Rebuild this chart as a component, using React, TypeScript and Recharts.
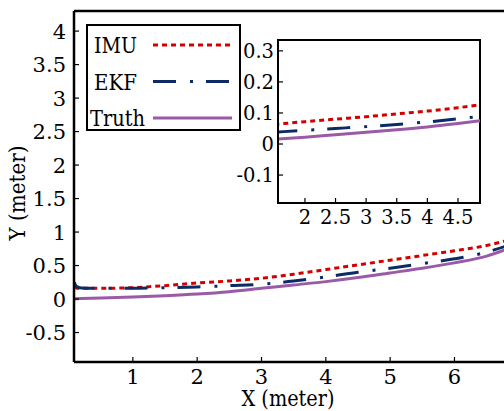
import React from 'react';
import { LineChart, Line, XAxis, YAxis, ReferenceLine, ReferenceArea } from 'recharts';

// main plot
const X_VALUES = [0.09, 0.12, 0.2, 0.5, 1, 1.5, 2, 2.5, 3, 3.5, 4, 4.5, 5, 5.5, 6, 6.5, 6.8];
const IMU = [0.17, 0.165, 0.16, 0.16, 0.17, 0.2, 0.24, 0.27, 0.31, 0.37, 0.44, 0.51, 0.58, 0.65, 0.72, 0.8, 0.87];
const EKF = [0.25, 0.19, 0.165, 0.16, 0.16, 0.17, 0.18, 0.2, 0.22, 0.27, 0.33, 0.4, 0.46, 0.53, 0.6, 0.7, 0.79];
const TRUTH = [0.005, 0.006, 0.008, 0.015, 0.03, 0.05, 0.075, 0.11, 0.16, 0.21, 0.26, 0.32, 0.39, 0.46, 0.54, 0.64, 0.74];
const X_TICKS = [1, 2, 3, 4, 5, 6];
const Y_TICKS = [-0.5, 0, 0.5, 1, 1.5, 2, 2.5, 3, 3.5, 4];

// inset
const INSET_X = [1.5, 2, 2.5, 3, 3.5, 4, 4.5, 5];
const INSET_IMU = [0.063, 0.072, 0.08, 0.088, 0.097, 0.106, 0.117, 0.13];
const INSET_EKF = [0.038, 0.044, 0.05, 0.056, 0.063, 0.071, 0.081, 0.092];
const INSET_TRUTH = [0.015, 0.022, 0.03, 0.038, 0.046, 0.055, 0.066, 0.078];
const INSET_X_TICKS = [2, 2.5, 3, 3.5, 4, 4.5];
const INSET_Y_TICKS = [-0.1, 0, 0.1, 0.2, 0.3];

const SERIES_NAMES = ['IMU', 'EKF', 'Truth'];

// Liberation Serif falls back to sans here, DejaVu Serif is the serif that renders
const FONT = "'DejaVu Serif', serif";
const RED = '#d40000';
const NAVY = '#0b2a66';
const PURPLE = '#9a5aa8';

const STYLES: Record<string, { color: string; dash?: string; textX: number; textLen: number }> = {
  IMU: { color: RED, dash: '5 4', textX: 8, textLen: 43 },
  EKF: { color: NAVY, dash: '23 14 3 13', textX: 8, textLen: 43 },
  Truth: { color: PURPLE, textX: 4, textLen: 55 },
};

const mainData = X_VALUES.map((x, i) => ({ x, IMU: IMU[i], EKF: EKF[i], Truth: TRUTH[i] }));
const insetData = INSET_X.map((x, i) => ({ x, IMU: INSET_IMU[i], EKF: INSET_EKF[i], Truth: INSET_TRUTH[i] }));

const txt = (size: number) => ({ fontFamily: FONT, fontSize: size, fill: '#000' });

// ticks drawn inward, labels outside
const BottomTick = ({ x, y, payload, size, gap }: any) => (
  <g>
    <line x1={x} y1={y} x2={x} y2={y - 5} stroke="#000" strokeWidth={1.2} />
    <text x={x} y={y + gap} textAnchor="middle" style={txt(size)}>
      {String(payload.value)}
    </text>
  </g>
);

const LeftTick = ({ x, y, payload, size, gap }: any) => (
  <g>
    <line x1={x} y1={y} x2={x + 5} y2={y} stroke="#000" strokeWidth={1.2} />
    <text x={x - gap} y={y} dy="0.36em" textAnchor="end" style={txt(size)}>
      {String(payload.value)}
    </text>
  </g>
);

function LegendBox() {
  return (
    <svg width={156} height={108} style={{ position: 'absolute', left: 86, top: 24 }}>
      <rect x={1} y={1} width={153} height={105} fill="#fff" stroke="#000" strokeWidth={2} />
      {SERIES_NAMES.map((name, i) => {
        const cy = 21 + i * 36.5;
        const s = STYLES[name];
        return (
          <g key={name}>
            <text x={s.textX} y={cy + 8} style={txt(22.5)} textLength={s.textLen} lengthAdjust="spacingAndGlyphs">
              {name}
            </text>
            <line x1={67} x2={146} y1={cy} y2={cy} stroke={s.color} strokeWidth={3} strokeDasharray={s.dash} />
          </g>
        );
      })}
    </svg>
  );
}

const seriesLines = () =>
  SERIES_NAMES.map((name) => (
    <Line
      key={name}
      name={name}
      dataKey={name}
      type="monotone"
      stroke={STYLES[name].color}
      strokeWidth={3}
      strokeDasharray={STYLES[name].dash}
      dot={false}
      isAnimationActive={false}
    />
  ));

export default function App() {
  return (
    <div style={{ position: 'absolute', left: 0, top: 0, width: 504, height: 411, background: '#fff' }}>
      <LineChart width={504} height={411} data={mainData} margin={{ top: 11, right: 0, left: 0, bottom: 0 }}>
        <XAxis
          dataKey="x"
          type="number"
          domain={[0.085, 6.77]}
          allowDataOverflow
          ticks={X_TICKS}
          height={49}
          tickSize={0}
          tickMargin={0}
          tickLine={false}
          axisLine={{ stroke: '#000', strokeWidth: 2.5 }}
          tick={<BottomTick size={21} gap={22} />}
          label={(p: any) => {
            const vb = p.viewBox;
            return (
              <text
                x={vb.x + vb.width / 2 - 1}
                y={406}
                textAnchor="middle"
                style={txt(21.5)}
                textLength={93}
                lengthAdjust="spacingAndGlyphs"
              >
                X (meter)
              </text>
            );
          }}
        />
        <YAxis
          type="number"
          domain={[-0.94, 4.3]}
          allowDataOverflow
          ticks={Y_TICKS}
          width={74}
          tickSize={0}
          tickMargin={0}
          tickLine={false}
          axisLine={{ stroke: '#000', strokeWidth: 2.5 }}
          tick={<LeftTick size={21} gap={8} />}
          label={() => (
            <text
              x={25}
              y={193}
              transform="rotate(-90 25 193)"
              textAnchor="middle"
              style={txt(21.5)}
              textLength={95}
              lengthAdjust="spacingAndGlyphs"
            >
              Y (meter)
            </text>
          )}
        />
        <ReferenceLine y={4.3} stroke="#000" strokeWidth={2.5} />
        {seriesLines()}
      </LineChart>

      <LegendBox />

      <div style={{ position: 'absolute', left: 0, top: 0, pointerEvents: 'none' }}>
        <LineChart width={504} height={411} data={insetData} margin={{ top: 40, right: 24, left: 218, bottom: 178 }}>
          <XAxis
            dataKey="x"
            type="number"
            domain={[1.56, 4.86]}
            allowDataOverflow
            ticks={INSET_X_TICKS}
            height={30}
            tickSize={0}
            tickMargin={0}
            tickLine={false}
            axisLine={{ stroke: '#000', strokeWidth: 2 }}
            tick={<BottomTick size={19.5} gap={21} />}
          />
          <YAxis
            type="number"
            domain={[-0.19, 0.335]}
            allowDataOverflow
            ticks={INSET_Y_TICKS}
            width={60}
            tickSize={0}
            tickMargin={0}
            tickLine={false}
            axisLine={{ stroke: '#000', strokeWidth: 2 }}
            tick={<LeftTick size={19.5} gap={4} />}
          />
          <ReferenceArea
            x1={1.56}
            x2={4.86}
            y1={-0.19}
            y2={0.335}
            fill="#fff"
            fillOpacity={1}
            stroke="#000"
            strokeWidth={2}
            strokeOpacity={1}
          />
          {seriesLines()}
        </LineChart>
      </div>
    </div>
  );
}
